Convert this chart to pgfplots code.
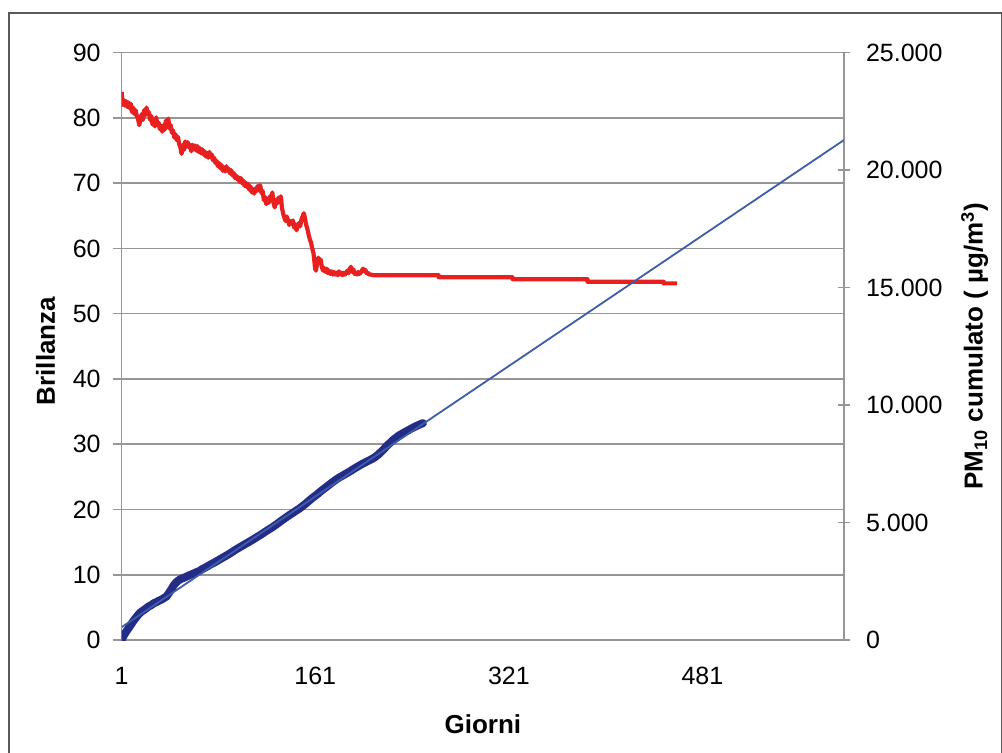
\documentclass[border=0pt]{standalone}
\usepackage{pgfplots}
\pgfplotsset{compat=1.18}
\usepackage{fontspec}
\setmainfont{Liberation Sans}
\definecolor{myred}{RGB}{232,32,32}
\definecolor{navy}{RGB}{35,45,135}
\definecolor{trend}{RGB}{62,92,170}
\definecolor{gridgray}{RGB}{150,150,150}
\definecolor{framegray}{RGB}{90,90,90}
\begin{document}
\begin{tikzpicture}
\useasboundingbox (0,0) rectangle (501pt,376pt);
\draw[framegray, line width=1pt] (4.65pt,-5pt) -- (4.65pt,369.35pt) -- (500.85pt,369.35pt) -- (500.85pt,-5pt);
\begin{axis}[
  at={(60.85pt,56pt)}, anchor=south west, scale only axis,
  width=361.15pt, height=293.65pt,
  xmin=1, xmax=598, ymin=0, ymax=90,
  axis x line*=bottom, axis y line*=left,
  axis line style={gridgray, line width=0.75pt},
  xtick={1,161,321,481}, ytick={0,10,...,90},
  xtick style={draw=none},
  ytick style={gridgray, line width=0.75pt},
  tick align=outside, major tick length=4.5pt,
  ymajorgrids, grid style={gridgray, line width=0.75pt},
  /pgf/number format/assume math mode=true,
  ticklabel style={font=\fontsize{12.5}{14}\selectfont},
  yticklabel style={xshift=-2.5pt},
  xticklabel style={yshift=-5.5pt},
  xlabel={Giorni}, ylabel={Brillanza},
  label style={font=\bfseries\fontsize{13}{15}\selectfont},
  xlabel style={at={(axis description cs:0.5,-0.143)}, anchor=center},
  ylabel style={at={(axis description cs:-0.1055,0.492)}, anchor=center, rotate=0},
  clip=true,
]
\addplot[myred, line width=2.1pt, line join=round] coordinates {
(1,84.0) (1.5,82.0) (2.5,82.8) (3.5,81.9) (4.5,82.6) (5.5,81.7) (6.5,82.4) (7.5,81.5) (8.5,82.2) (9.5,80.9)
(10.5,81.6) (11.5,80.6) (12.5,81.2) (13.5,80.3) (14.5,79.9) (15.5,78.9) (16.5,79.8) (17.5,80.6) (18.5,79.7) (19.5,81.2)
(20.5,80.4) (21.5,81.6) (22.5,80.6) (23.5,80.9) (24.5,79.7) (25.5,80.3) (26.5,79.0) (27.5,79.6) (28.5,78.7) (29.5,80.1)
(30.5,78.9) (31.5,79.3) (32.5,78.3) (33.5,78.8) (34.5,77.9) (35.5,78.9) (36.5,78.2) (37.5,79.6) (38.5,78.6) (39.5,79.9)
(40.5,78.4) (41.5,78.9) (42.5,77.7) (43.5,78.1) (44.5,77.0) (45.5,77.5) (46.5,76.6) (47.5,77.1) (48.5,76.0) (49.5,75.5)
(50.5,74.5) (51.5,75.9) (52.5,75.1) (53.5,76.4) (54.5,75.6) (55.5,76.3) (56.5,75.5) (57.5,75.9) (58.5,74.9) (59.5,75.9)
(60.5,75.2) (61.5,75.8) (62.5,75.0) (63.5,75.7) (64.5,74.8) (65.5,75.4) (66.5,74.6) (67.5,75.2) (68.5,74.4) (69.5,74.9)
(70.5,74.1) (71.5,74.6) (72.5,73.9) (73.5,74.8) (74.5,74.0) (75.5,74.4) (76.5,73.5) (77.5,73.9) (78.5,73.1) (79.5,73.4)
(80.5,72.6) (81.5,73.1) (82.5,72.3) (83.5,72.8) (84.5,71.9) (85.5,72.4) (86.5,71.8) (87.5,72.6) (88.5,71.9) (89.5,72.2)
(90.5,71.5) (91.5,72.0) (92.5,71.2) (93.5,71.6) (94.5,70.8) (95.5,71.2) (96.5,70.6) (97.5,70.9) (98.5,70.2) (99.5,70.8)
(100.5,70.0) (101.5,70.4) (102.5,69.6) (103.5,70.1) (104.5,69.4) (105.5,69.9) (106.5,69.0) (107.5,69.5) (108.5,68.6) (109.5,69.1)
(110.5,68.4) (111.5,69.2) (112.5,68.8) (113.5,69.6) (114.5,68.9) (115.5,69.7) (116.5,68.5) (117.5,68.8) (118.5,67.4) (119.5,67.9)
(120.5,66.8) (121.5,67.5) (122.5,67.0) (123.5,68.0) (124.5,67.4) (125.5,68.6) (126.5,67.0) (127.5,66.3) (128.5,67.4) (129.5,66.9)
(130.5,67.8) (131.5,67.1) (132.5,68.0) (133.5,66.2) (134.5,65.3) (135.5,64.7) (136.5,64.2) (137.5,64.9) (138.5,64.3) (139.5,63.6)
(140.5,64.2) (141.5,63.8) (142.5,64.3) (143.5,63.2) (144.5,63.7) (145.5,62.8) (146.5,63.3) (147.5,63.9) (148.5,63.4) (149.5,64.4)
(150.5,64.9) (151.5,65.4) (152.5,64.6) (153.5,63.6) (154.5,63.0) (155.5,62.1) (156.5,61.4) (157.5,60.9) (158.5,60.0) (159.5,59.3)
(160.3,58.0) (160.8,57.0) (161.5,56.6) (162.5,57.6) (163.5,58.6) (164.5,57.8) (165.5,58.3) (166.5,57.1) (167.5,56.6) (168.5,57.0)
(169.5,56.4) (170.5,56.9) (171.5,56.2) (172.5,56.6) (173.5,56.1) (174.5,56.5) (175.5,56.0) (176.5,56.4) (177.5,56.0) (178.5,56.3)
(179.5,55.9) (180.5,56.5) (181.5,56.0) (182.5,56.3) (183.5,55.9) (184.5,56.3) (185.5,56.0) (186.5,56.2) (187.5,56.6) (188.5,56.2)
(189.5,56.9) (190.5,57.2) (191.5,56.4) (192.5,56.8) (193.5,56.1) (194.5,56.3) (195.5,56.0) (196.5,56.4) (197.5,56.1) (198.5,56.3)
(199.5,56.6) (200.5,56.9) (201.5,56.5) (202.5,56.7) (203.5,56.2) (204.5,56.3) (205.5,56.0) (207,56.0) (209,55.9)
(263,55.9) (263,55.6) (324,55.6) (324,55.3) (386,55.3) (386,54.9) (449,54.9) (449,54.65) (460,54.65)
};
\end{axis}
\begin{axis}[
  at={(60.85pt,56pt)}, anchor=south west, scale only axis,
  width=361.15pt, height=293.65pt,
  xmin=1, xmax=598, ymin=0, ymax=25000,
  hide x axis, axis y line*=right,
  axis line style={gridgray, line width=0.75pt},
  ytick={0,5000,...,25000},
  scaled y ticks=false,
  yticklabel style={xshift=4.5pt, /pgf/number format/1000 sep={.}},
  ytick style={gridgray, line width=0.75pt},
  tick align=center, major tick length=6pt,
  /pgf/number format/assume math mode=true,
  ticklabel style={font=\fontsize{12.5}{14}\selectfont},
  ylabel={PM\textsubscript{10} cumulato ( µg/m\textsuperscript{3})},
  label style={font=\bfseries\fontsize{13}{15}\selectfont},
  ylabel style={at={(axis description cs:1.1809,0.5006)}, anchor=center, rotate=0},
  clip=true,
]
\addplot[navy, line width=4pt, line join=round, line cap=round] coordinates {
(1,0) (3,220) (5,380) (8,600) (10,760) (12,900) (14,1030) (16,1150) (18,1230) (20,1300) (23,1420) (25,1470)
(28,1580) (30,1620) (32,1680) (34,1720) (36,1790) (38,1850) (40,2000) (42,2150) (44,2330) (46,2450) (48,2540)
(50,2600) (53,2660) (55,2710) (58,2780) (60,2820) (63,2890) (65,2930) (68,3030) (70,3080) (73,3170) (75,3230)
(78,3310) (80,3370) (83,3460) (85,3520) (88,3610) (90,3670) (93,3770) (95,3840) (98,3930) (100,3990) (103,4080)
(105,4140) (108,4230) (110,4290) (113,4390) (115,4450) (118,4550) (120,4620) (123,4720) (125,4780) (128,4890)
(130,4960) (133,5080) (135,5150) (138,5260) (140,5330) (143,5430) (145,5500) (148,5600) (150,5680) (153,5800)
(155,5890) (158,6020) (160,6100) (163,6220) (165,6310) (168,6430) (170,6510) (173,6630) (175,6710) (178,6820)
(180,6890) (183,6980) (185,7040) (188,7130) (190,7190) (193,7290) (195,7350) (198,7440) (200,7500) (203,7580)
(205,7630) (208,7710) (210,7770) (213,7890) (215,7990) (218,8140) (220,8260) (223,8400) (225,8500) (228,8620)
(230,8700) (233,8790) (235,8850) (238,8930) (240,8990) (243,9070) (245,9120) (248,9190) (250,9230)
};
\addplot[trend, line width=0.9pt] coordinates {(1,550) (598,21284)};
\end{axis}
\end{tikzpicture}
\end{document}
